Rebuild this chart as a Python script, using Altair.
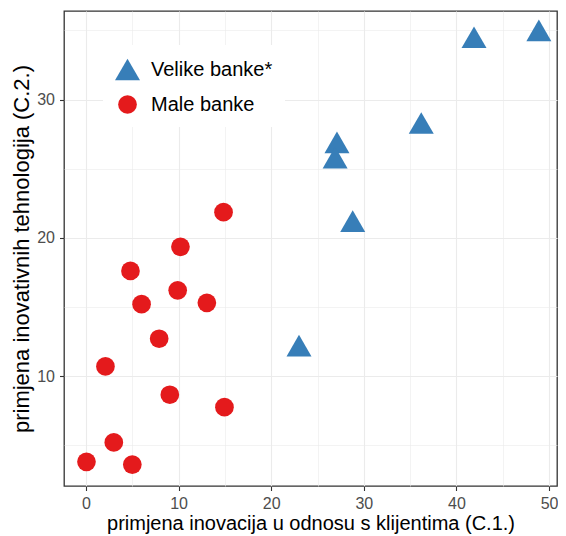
import altair as alt
import pandas as pd

# Velike banke* (large banks)
x_velike = [48.9, 41.9, 36.2, 27.1, 26.9, 28.8, 23.0]
y_velike = [35.0, 34.5, 28.3, 26.9, 25.8, 21.2, 12.2]

# Male banke (small banks)
x_male = [14.85, 10.2, 4.8, 9.9, 13.05, 6.0, 7.9, 2.1, 9.05, 14.95, 3.0, 0.05, 5.0]
y_male = [21.85, 19.35, 17.6, 16.2, 15.3, 15.2, 12.7, 10.7, 8.65, 7.75, 5.2, 3.8, 3.6]

groups = ["Velike banke*", "Male banke"]
colors = ["#377EB8", "#E41A1C"]
shapes = ["triangle-up", "circle"]
sizes = [625, 350]

x_ticks = [0, 5, 10, 15, 20, 25, 30, 35, 40, 45, 50]
y_ticks = [5, 10, 15, 20, 25, 30, 35]

df = pd.DataFrame(
    {
        "x": x_velike + x_male,
        "y": y_velike + y_male,
        "g": [groups[0]] * len(x_velike) + [groups[1]] * len(x_male),
    }
)

FONT = "Liberation Sans"

major = {"condition": {"test": "datum.value % 10 === 0", "value": 1}, "value": 0}
gridw = {"condition": {"test": "datum.value % 10 === 0", "value": 1.1}, "value": 0.6}

x_axis = alt.Axis(
    values=x_ticks,
    labelExpr="datum.value % 10 === 0 ? datum.label : ''",
    tickOpacity=major,
    gridWidth=gridw,
    gridColor="#EBEBEB",
    domain=False,
    tickColor="#333333",
    tickSize=4.5,
    tickWidth=1.1,
    labelColor="#4D4D4D",
    labelFontSize=16,
    labelFont=FONT,
    labelPadding=5,
    labelOverlap=False,
    title="primjena inovacija u odnosu s klijentima (C.1.)",
    titleFont=FONT,
    titleFontSize=20,
    titleFontWeight="normal",
    titleColor="#000000",
    titlePadding=2,
)

y_axis = alt.Axis(
    values=y_ticks,
    labelExpr="datum.value % 10 === 0 ? datum.label : ''",
    tickOpacity=major,
    gridWidth=gridw,
    gridColor="#EBEBEB",
    domain=False,
    tickColor="#333333",
    tickSize=4.5,
    tickWidth=1.1,
    labelColor="#4D4D4D",
    labelFontSize=16,
    labelFont=FONT,
    labelPadding=5,
    title="primjena inovativnih tehnologija (C.2.)",
    titleFont=FONT,
    titleFontSize=22,
    titleFontWeight="normal",
    titleColor="#000000",
    titlePadding=3,
)

legend = alt.Legend(
    title=None,
    orient="none",
    legendX=39,
    legendY=34,
    fillColor="white",
    padding=12,
    rowPadding=13.5,
    labelFont=FONT,
    labelFontSize=20,
    labelColor="#000000",
    labelOffset=11,
    symbolStrokeWidth=0,
    symbolOpacity=1,
)

chart = (
    alt.Chart(df)
    .mark_point(filled=True, opacity=1, strokeWidth=0)
    .encode(
        x=alt.X("x:Q", scale=alt.Scale(domain=[-2.376, 50.86], nice=False, zero=False), axis=x_axis),
        y=alt.Y("y:Q", scale=alt.Scale(domain=[2.05, 36.4], nice=False, zero=False), axis=y_axis),
        color=alt.Color("g:N", scale=alt.Scale(domain=groups, range=colors), legend=legend),
        shape=alt.Shape("g:N", scale=alt.Scale(domain=groups, range=shapes), legend=legend),
        size=alt.Size("g:N", scale=alt.Scale(domain=groups, range=sizes), legend=legend),
    )
    .properties(
        width=493,
        height=475,
        background="white",
        autosize=alt.AutoSizeParams(type="none"),
        padding={"left": 56, "top": 3, "right": 1, "bottom": 50},
    )
    .configure_view(stroke="#333333", strokeWidth=1.3)
)

chart.save("out.html", embed_options={"renderer": "svg", "actions": False})
